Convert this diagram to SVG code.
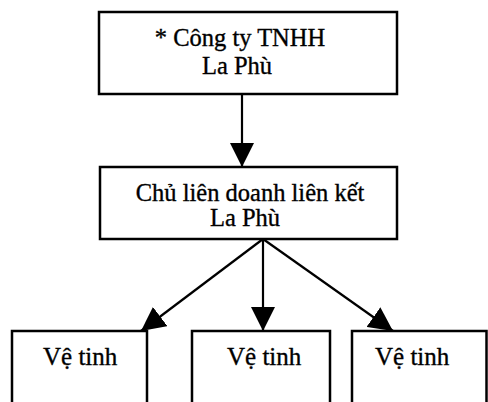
<svg xmlns="http://www.w3.org/2000/svg" width="488" height="402" viewBox="0 0 488 402">
  <defs>
    <marker id="arrow" markerUnits="userSpaceOnUse" markerWidth="24" markerHeight="24" viewBox="0 0 22 22" refX="22" refY="11" orient="auto">
      <path d="M0,0 L22,11 L0,22 Z" fill="#000"/>
    </marker>
    <style>
      .box { fill: #fff; stroke: #000; stroke-width: 2.5; }
      .lbl { font-family: "Liberation Serif", "Times New Roman", serif; font-size: 24.5px; fill: #000; stroke: #000; stroke-width: 0.35; text-anchor: middle; }
      .lbl2 { font-family: "Liberation Serif", "Times New Roman", serif; font-size: 25px; fill: #000; stroke: #000; stroke-width: 0.35; }
      .conn { stroke: #000; stroke-width: 2.2; fill: none; marker-end: url(#arrow); }
    </style>
  </defs>
  <rect width="488" height="402" fill="#fff"/>

  <g id="connectors">
    <line class="conn" x1="242" y1="94" x2="242" y2="167"/>
    <line class="conn" x1="263" y1="239" x2="263" y2="331"/>
    <line class="conn" x1="263" y1="239" x2="141" y2="331"/>
    <line class="conn" x1="263" y1="239" x2="393" y2="331"/>
  </g>

  <g id="node-cong-ty">
    <rect class="box" x="99" y="12" width="298" height="82"/>
    <text class="lbl" x="240" y="46">* Công ty TNHH</text>
    <text class="lbl" x="237" y="74">La Phù</text>
  </g>

  <g id="node-chu-lien-doanh">
    <rect class="box" x="100" y="167" width="297" height="72"/>
    <text class="lbl" x="250" y="201">Chủ liên doanh liên kết</text>
    <text class="lbl" x="245" y="226">La Phù</text>
  </g>

  <g id="node-ve-tinh-1">
    <rect class="box" x="12" y="331" width="135" height="80"/>
    <text class="lbl2" x="43" y="365">Vệ tinh</text>
  </g>

  <g id="node-ve-tinh-2">
    <rect class="box" x="192" y="331" width="138" height="80"/>
    <text class="lbl2" x="227" y="365">Vệ tinh</text>
  </g>

  <g id="node-ve-tinh-3">
    <rect class="box" x="352" y="331" width="134.5" height="80"/>
    <text class="lbl2" x="375" y="365">Vệ tinh</text>
  </g>
</svg>
